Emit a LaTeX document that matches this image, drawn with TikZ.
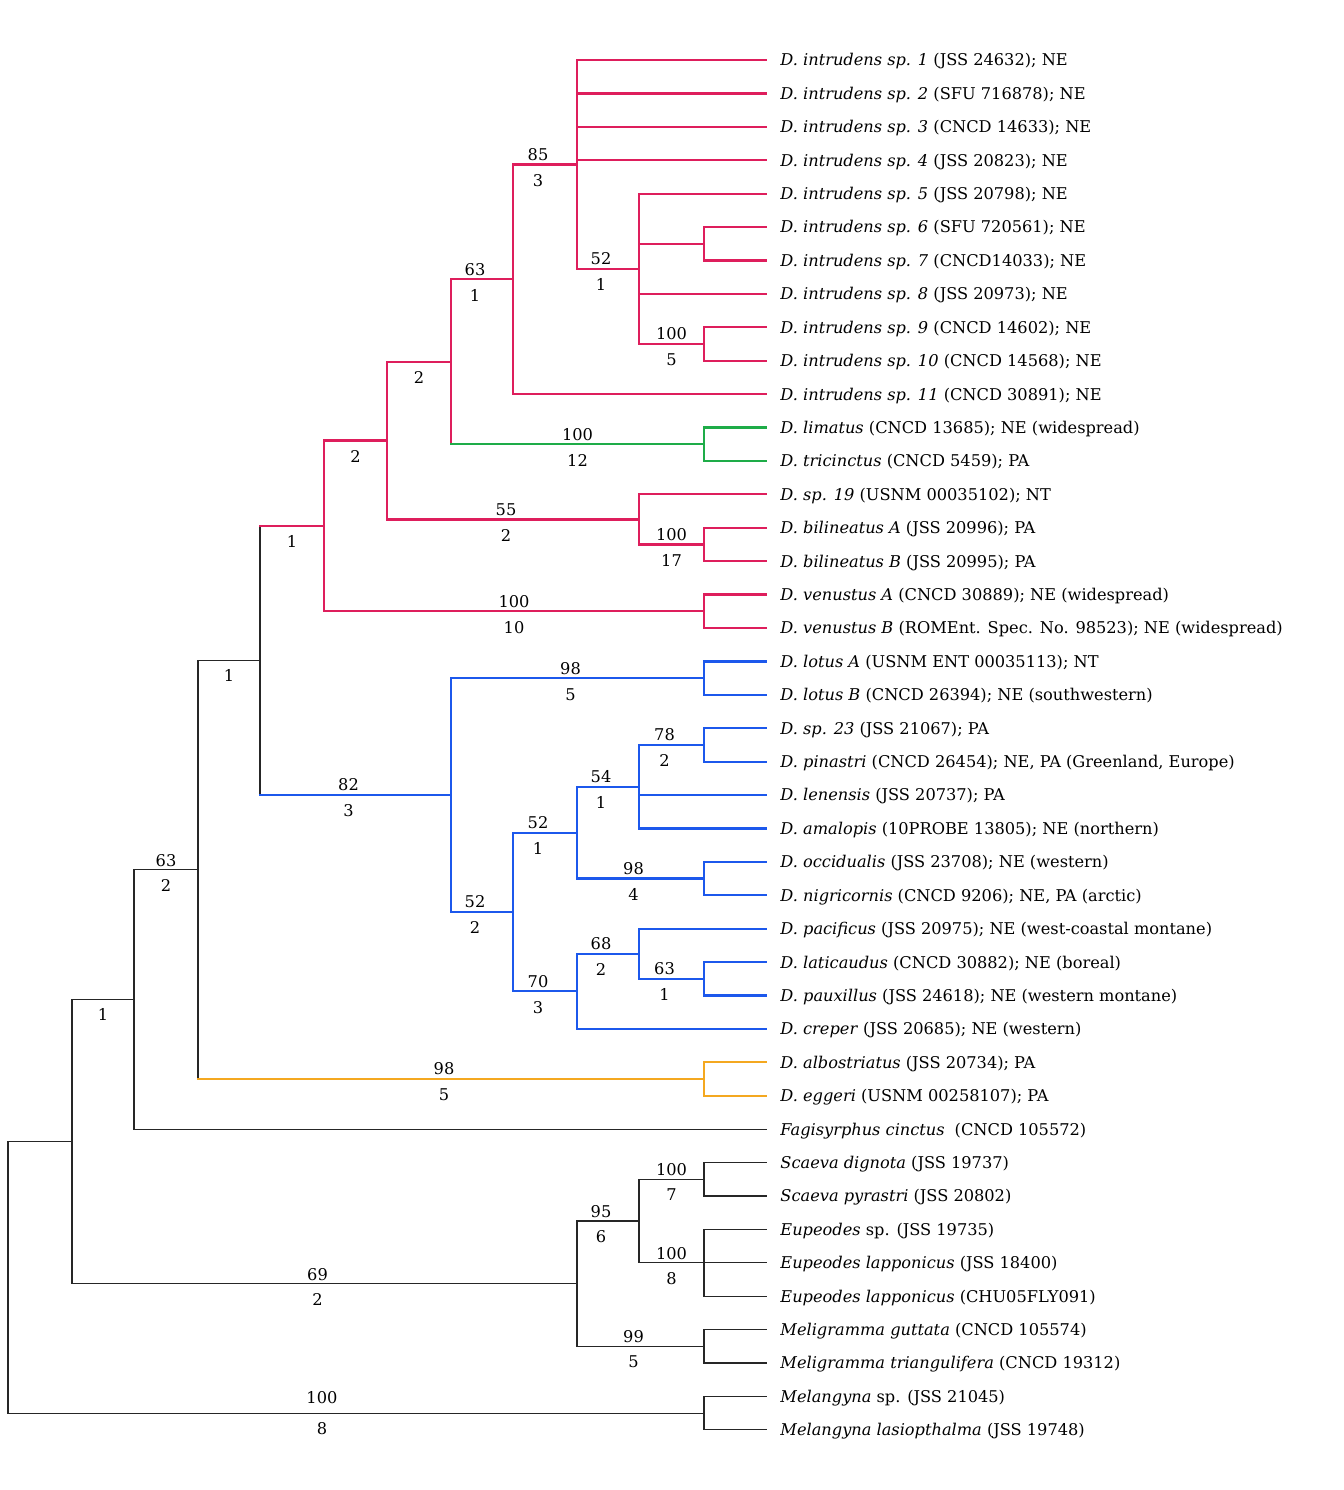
\documentclass[tikz,border=0pt]{standalone}
\usepackage{fontspec}
\setmainfont{DejaVu Serif}
\usetikzlibrary{calc}

\definecolor{cladeRed}{RGB}{222,30,92}
\definecolor{cladeBlue}{RGB}{28,88,236}
\definecolor{cladeGreen}{RGB}{30,172,72}
\definecolor{cladeOrange}{RGB}{244,168,32}

\begin{document}
\begin{tikzpicture}[
  x=0.5pt, y=-16.705pt,
  every node/.style={font=\fontsize{8.1}{9.5}\selectfont},
  br/.style={line width=0.6pt, line cap=rect, black!85},
  rd/.style={line width=1.1pt, line cap=rect, cladeRed},
  bl/.style={line width=1.1pt, line cap=rect, cladeBlue},
  gr/.style={line width=1.1pt, line cap=rect, cladeGreen},
  og/.style={line width=1.1pt, line cap=rect, cladeOrange},
  taxon/.style={anchor=west, inner xsep=7pt, inner ysep=0pt, text height=5.9pt, text depth=0pt},
  bsup/.style={above, inner sep=1.5pt, text height=5.9pt, text depth=0pt, black},
  bdec/.style={below, inner sep=4.5pt, text height=5.9pt, text depth=0pt, black},
  bsupl/.style={bsup, xshift=-3.5pt},
  bdecl/.style={bdec, xshift=-3.5pt},
]
  \useasboundingbox (0,-0.796) rectangle (1343,43.80);

  % taxa
  \node[taxon] (t1) at (766,1) {\textit{D. intrudens sp. 1} (JSS 24632); NE};
  \node[taxon] (t2) at (766,2) {\textit{D. intrudens sp. 2} (SFU 716878); NE};
  \node[taxon] (t3) at (766,3) {\textit{D. intrudens sp. 3} (CNCD 14633); NE};
  \node[taxon] (t4) at (766,4) {\textit{D. intrudens sp. 4} (JSS 20823); NE};
  \node[taxon] (t5) at (766,5) {\textit{D. intrudens sp. 5} (JSS 20798); NE};
  \node[taxon] (t6) at (766,6) {\textit{D. intrudens sp. 6} (SFU 720561); NE};
  \node[taxon] (t7) at (766,7) {\textit{D. intrudens sp. 7} (CNCD14033); NE};
  \node[taxon] (t8) at (766,8) {\textit{D. intrudens sp. 8} (JSS 20973); NE};
  \node[taxon] (t9) at (766,9) {\textit{D. intrudens sp. 9} (CNCD 14602); NE};
  \node[taxon] (t10) at (766,10) {\textit{D. intrudens sp. 10} (CNCD 14568); NE};
  \node[taxon] (t11) at (766,11) {\textit{D. intrudens sp. 11} (CNCD 30891); NE};
  \node[taxon] (t12) at (766,12) {\textit{D. limatus} (CNCD 13685); NE (widespread)};
  \node[taxon] (t13) at (766,13) {\textit{D. tricinctus} (CNCD 5459); PA};
  \node[taxon] (t14) at (766,14) {\textit{D. sp. 19} (USNM 00035102); NT};
  \node[taxon] (t15) at (766,15) {\textit{D. bilineatus A} (JSS 20996); PA};
  \node[taxon] (t16) at (766,16) {\textit{D. bilineatus B} (JSS 20995); PA};
  \node[taxon] (t17) at (766,17) {\textit{D. venustus A} (CNCD 30889); NE (widespread)};
  \node[taxon] (t18) at (766,18) {\textit{D. venustus B} (ROMEnt. Spec. No. 98523); NE (widespread)};
  \node[taxon] (t19) at (766,19) {\textit{D. lotus A} (USNM ENT 00035113); NT};
  \node[taxon] (t20) at (766,20) {\textit{D. lotus B} (CNCD 26394); NE (southwestern)};
  \node[taxon] (t21) at (766,21) {\textit{D. sp. 23} (JSS 21067); PA};
  \node[taxon] (t22) at (766,22) {\textit{D. pinastri} (CNCD 26454); NE, PA (Greenland, Europe)};
  \node[taxon] (t23) at (766,23) {\textit{D. lenensis} (JSS 20737); PA};
  \node[taxon] (t24) at (766,24) {\textit{D. amalopis} (10PROBE 13805); NE (northern)};
  \node[taxon] (t25) at (766,25) {\textit{D. occidualis} (JSS 23708); NE (western)};
  \node[taxon] (t26) at (766,26) {\textit{D. nigricornis} (CNCD 9206); NE, PA (arctic)};
  \node[taxon] (t27) at (766,27) {\textit{D. pacificus} (JSS 20975); NE (west-coastal montane)};
  \node[taxon] (t28) at (766,28) {\textit{D. laticaudus} (CNCD 30882); NE (boreal)};
  \node[taxon] (t29) at (766,29) {\textit{D. pauxillus} (JSS 24618); NE (western montane)};
  \node[taxon] (t30) at (766,30) {\textit{D. creper} (JSS 20685); NE (western)};
  \node[taxon] (t31) at (766,31) {\textit{D. albostriatus} (JSS 20734); PA};
  \node[taxon] (t32) at (766,32) {\textit{D. eggeri} (USNM 00258107); PA};
  \node[taxon] (t33) at (766,33) {\textit{Fagisyrphus cinctus}\hspace{0.3em} (CNCD 105572)};
  \node[taxon] (t34) at (766,34) {\textit{Scaeva dignota} (JSS 19737)};
  \node[taxon] (t35) at (766,35) {\textit{Scaeva pyrastri} (JSS 20802)};
  \node[taxon] (t36) at (766,36) {\textit{Eupeodes} sp. (JSS 19735)};
  \node[taxon] (t37) at (766,37) {\textit{Eupeodes lapponicus} (JSS 18400)};
  \node[taxon] (t38) at (766,38) {\textit{Eupeodes lapponicus} (CHU05FLY091)};
  \node[taxon] (t39) at (766,39) {\textit{Meligramma guttata} (CNCD 105574)};
  \node[taxon] (t40) at (766,40) {\textit{Meligramma triangulifera} (CNCD 19312)};
  \node[taxon] (t41) at (766,41) {\textit{Melangyna} sp. (JSS 21045)};
  \node[taxon] (t42) at (766,42) {\textit{Melangyna lasiopthalma} (JSS 19748)};

  % internal nodes
  \coordinate (n6x7) at (704,6.5);
  \coordinate (n9x10) at (704,9.5);
  \coordinate (n5x10) at (639,7.25);
  \coordinate (n1x10) at (577,4.125);
  \coordinate (nIntr) at (513,7.5625);
  \coordinate (nLimTri) at (704,12.5);
  \coordinate (nIntrLim) at (451,10.031);
  \coordinate (nBil) at (704,15.5);
  \coordinate (nSp19) at (639,14.75);
  \coordinate (nRedA) at (387,12.391);
  \coordinate (nVen) at (704,17.5);
  \coordinate (nRed) at (324,14.945);
  \coordinate (nLot) at (704,19.5);
  \coordinate (nSp23) at (704,21.5);
  \coordinate (nPin) at (639,22.75);
  \coordinate (nOcc) at (704,25.5);
  \coordinate (nBlueA) at (577,24.125);
  \coordinate (nLat) at (704,28.5);
  \coordinate (nPac) at (639,27.75);
  \coordinate (nBlueB) at (577,28.875);
  \coordinate (nBlueAB) at (513,26.5);
  \coordinate (nBlue) at (451,23);
  \coordinate (nRB) at (260,18.973);
  \coordinate (nOrange) at (704,31.5);
  \coordinate (nDid) at (198,25.236);
  \coordinate (nDidF) at (134,29.118);
  \coordinate (nScae) at (704,34.5);
  \coordinate (nEup) at (704,37);
  \coordinate (nScEu) at (639,35.75);
  \coordinate (nMeli) at (704,39.5);
  \coordinate (nOut) at (577,37.625);
  \coordinate (nIn) at (72,33.372);
  \coordinate (nMel) at (704,41.5);
  \coordinate (nRoot) at (8,37.436);

  % red clade
  \draw[rd] (t6.west) -- (t6.west -| n6x7) -- (t7.west -| n6x7) -- (t7.west);
  \draw[rd] (t9.west) -- (t9.west -| n9x10) -- (t10.west -| n9x10) -- (t10.west);
  \draw[rd] (t5.west) -- (t5.west -| n5x10) -- (n9x10 -| n5x10) -- node[bsup]{100} node[bdec]{5} (n9x10)
    (n6x7 -| n5x10) -- (n6x7) (t8.west -| n5x10) -- (t8.west);
  \draw[rd] (t1.west) -- (t1.west -| n1x10) -- (n5x10 -| n1x10) -- node[bsupl]{52} node[bdecl]{1} (n5x10)
    (t2.west -| n1x10) -- (t2.west) (t3.west -| n1x10) -- (t3.west) (t4.west -| n1x10) -- (t4.west);
  \draw[rd] (n1x10) -- node[bsupl]{85} node[bdecl]{3} (n1x10 -| nIntr) -- (t11.west -| nIntr) -- (t11.west);
  \draw[gr] (t12.west) -- (t12.west -| nLimTri) -- (t13.west -| nLimTri) -- (t13.west);
  \draw[rd] (nIntr) -- node[bsupl]{63} node[bdecl]{1} (nIntr -| nIntrLim) -- (nLimTri -| nIntrLim);
  \draw[gr] (nLimTri -| nIntrLim) -- node[bsup]{100} node[bdec]{12} (nLimTri);
  \draw[rd] (t15.west) -- (t15.west -| nBil) -- (t16.west -| nBil) -- (t16.west);
  \draw[rd] (t14.west) -- (t14.west -| nSp19) -- (nBil -| nSp19) -- node[bsup]{100} node[bdec]{17} (nBil);
  \draw[rd] (nIntrLim) -- node[bdec]{2} (nIntrLim -| nRedA) -- (nSp19 -| nRedA) -- node[bsupl]{55} node[bdecl]{2} (nSp19);
  \draw[rd] (t17.west) -- (t17.west -| nVen) -- (t18.west -| nVen) -- (t18.west);
  \draw[rd] (nRedA) -- node[bdec]{2} (nRedA -| nRed) -- (nVen -| nRed) -- node[bsup]{100} node[bdec]{10} (nVen);

  % blue clade
  \draw[bl] (t19.west) -- (t19.west -| nLot) -- (t20.west -| nLot) -- (t20.west);
  \draw[bl] (t21.west) -- (t21.west -| nSp23) -- (t22.west -| nSp23) -- (t22.west);
  \draw[bl] (nSp23) -- node[bsupl]{78} node[bdecl]{2} (nSp23 -| nPin) -- (t24.west -| nPin) -- (t24.west)
    (t23.west -| nPin) -- (t23.west);
  \draw[bl] (t25.west) -- (t25.west -| nOcc) -- (t26.west -| nOcc) -- (t26.west);
  \draw[bl] (nPin) -- node[bsupl]{54} node[bdecl]{1} (nPin -| nBlueA) -- (nOcc -| nBlueA) -- node[bsupl]{98} node[bdecl]{4} (nOcc);
  \draw[bl] (t28.west) -- (t28.west -| nLat) -- (t29.west -| nLat) -- (t29.west);
  \draw[bl] (t27.west) -- (t27.west -| nPac) -- (nLat -| nPac) -- node[bsupl]{63} node[bdecl]{1} (nLat);
  \draw[bl] (nPac) -- node[bsupl]{68} node[bdecl]{2} (nPac -| nBlueB) -- (t30.west -| nBlueB) -- (t30.west);
  \draw[bl] (nBlueA) -- node[bsupl]{52} node[bdecl]{1} (nBlueA -| nBlueAB) -- (nBlueB -| nBlueAB) -- node[bsupl]{70} node[bdecl]{3} (nBlueB);
  \draw[bl] (nLot) -- node[bsupl]{98} node[bdecl]{5} (nLot -| nBlue) -- (nBlueAB -| nBlue) -- node[bsupl]{52} node[bdecl]{2} (nBlueAB);

  % red + blue
  \draw[br] (nRed -| nRB) -- (nBlue -| nRB);
  \draw[rd] (nRed -| nRB) -- node[bdec]{1} (nRed);
  \draw[bl] (nBlue -| nRB) -- node[bsupl]{82} node[bdecl]{3} (nBlue);

  % orange clade and the rest of Dasysyrphus
  \draw[og] (t31.west) -- (t31.west -| nOrange) -- (t32.west -| nOrange) -- (t32.west);
  \draw[br] (nRB) -- node[bdec]{1} (nRB -| nDid) -- (nOrange -| nDid);
  \draw[og] (nOrange -| nDid) -- node[bsupl]{98} node[bdecl]{5} (nOrange);
  \draw[br] (nDid) -- node[bsup]{63} node[bdec]{2} (nDid -| nDidF) -- (t33.west -| nDidF) -- (t33.west);

  % outgroups
  \draw[br] (t34.west) -- (t34.west -| nScae) -- (t35.west -| nScae) -- (t35.west);
  \draw[br] (t36.west) -- (t36.west -| nEup) -- (t38.west -| nEup) -- (t38.west)
    (t37.west -| nEup) -- (t37.west);
  \draw[br] (nScae) -- node[bsup]{100} node[bdec]{7} (nScae -| nScEu) -- (nEup -| nScEu) -- node[bsup]{100} node[bdec]{8} (nEup);
  \draw[br] (t39.west) -- (t39.west -| nMeli) -- (t40.west -| nMeli) -- (t40.west);
  \draw[br] (nScEu) -- node[bsupl]{95} node[bdecl]{6} (nScEu -| nOut) -- (nMeli -| nOut) -- node[bsupl]{99} node[bdecl]{5} (nMeli);
  \draw[br] (nDidF) -- node[bdec]{1} (nDidF -| nIn) -- (nOut -| nIn) -- node[bsupl]{69} node[bdecl]{2} (nOut);
  \draw[br] (t41.west) -- (t41.west -| nMel) -- (t42.west -| nMel) -- (t42.west);
  \draw[br] (nIn) -- (nIn -| nRoot) -- (nMel -| nRoot) -- node[pos=0.451, bsup, yshift=3pt]{100} node[pos=0.451, bdec]{8} (nMel);
\end{tikzpicture}
\end{document}
